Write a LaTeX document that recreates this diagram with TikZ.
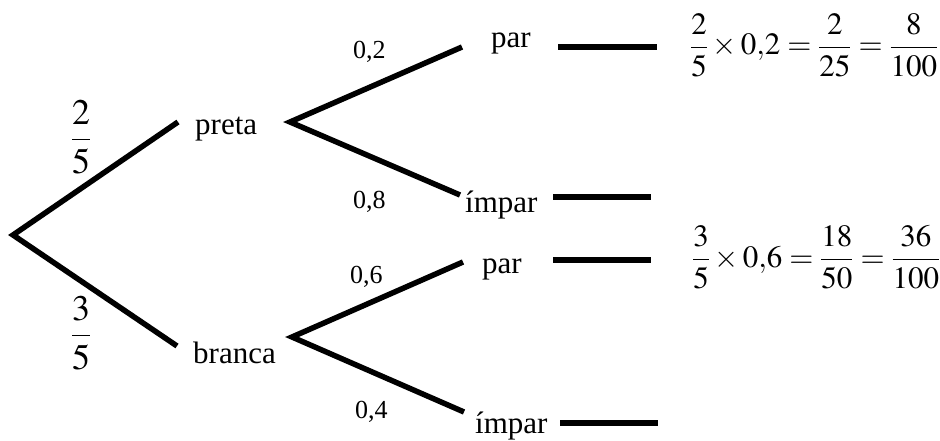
\documentclass[tikz,border=0pt]{standalone}
\usepackage{amsmath}
\usepackage{mathptmx}
\usepackage[no-math]{fontspec}
\setmainfont{Liberation Serif}
\usepackage{tikz}
\usetikzlibrary{positioning}

\tikzset{
  branch/.style={line width=5.5pt, line join=miter},
  stub/.style={line width=5.5pt},
  lbl/.style={inner sep=0pt, anchor=base west, font=\fontsize{31}{36}\selectfont},
  prob/.style={inner sep=0pt, anchor=base west, font=\fontsize{26}{30}\selectfont},
  frac/.style={inner sep=0pt, font=\fontsize{36}{42}\selectfont},
  result/.style={inner sep=0pt, anchor=west, font=\fontsize{31}{36}\selectfont},
}

\begin{document}
\begin{tikzpicture}[x=1pt,y=-1pt]
    \useasboundingbox (0,0) rectangle (940,441);

    % First level
    \coordinate (root) at (13,235);
    \coordinate (pretaEnd) at (178,122);
    \coordinate (brancaEnd) at (177,346);
    \draw[branch] (pretaEnd) -- (root) -- (brancaEnd);
    \node[frac] (fracP) at (81,137) {$\dfrac{2}{5}$};
    \node[frac] (fracB) at (81,333) {$\dfrac{3}{5}$};
    \node[lbl] (preta) at (195,135) {preta};
    \node[lbl] (branca) at (193,363) {branca};

    % Second level, preta
    \coordinate (vP) at (290,122);
    \coordinate (parPEnd) at (462,47);
    \coordinate (impPEnd) at (460,195);
    \draw[branch] (parPEnd) -- (vP) -- (impPEnd);
    \node[prob] (pr02) at (353,59) {0,2};
    \node[prob] (pr08) at (353,208) {0,8};
    \node[lbl] (parP) at (491,48) {par};
    \node[lbl] (impP) at (465,212) {ímpar};
    \coordinate (s1a) at (558,47);
    \coordinate (s1b) at (657,47);
    \draw[stub] (s1a) -- (s1b);
    \coordinate (s2a) at (553,197);
    \coordinate (s2b) at (651,197);
    \draw[stub] (s2a) -- (s2b);

    % Second level, branca
    \coordinate (vB) at (292,337);
    \coordinate (parBEnd) at (463,262);
    \coordinate (impBEnd) at (464,412);
    \draw[branch] (parBEnd) -- (vB) -- (impBEnd);
    \node[prob] (pr06) at (350,283) {0,6};
    \node[prob] (pr04) at (355,418) {0,4};
    \node[lbl] (parB) at (482,273) {par};
    \node[lbl] (impB) at (475,433) {ímpar};
    \coordinate (s3a) at (553,260);
    \coordinate (s3b) at (651,260);
    \draw[stub] (s3a) -- (s3b);
    \coordinate (s4a) at (560,423);
    \coordinate (s4b) at (658,423);
    \draw[stub] (s4a) -- (s4b);

    % Results
    \node[result] (resP) at (690,45) {$\dfrac{2}{5}\times 0{,}2 = \dfrac{2}{25} = \dfrac{8}{100}$};
    \node[result] (resB) at (692,257) {$\dfrac{3}{5}\times 0{,}6 = \dfrac{18}{50} = \dfrac{36}{100}$};
\end{tikzpicture}
\end{document}
